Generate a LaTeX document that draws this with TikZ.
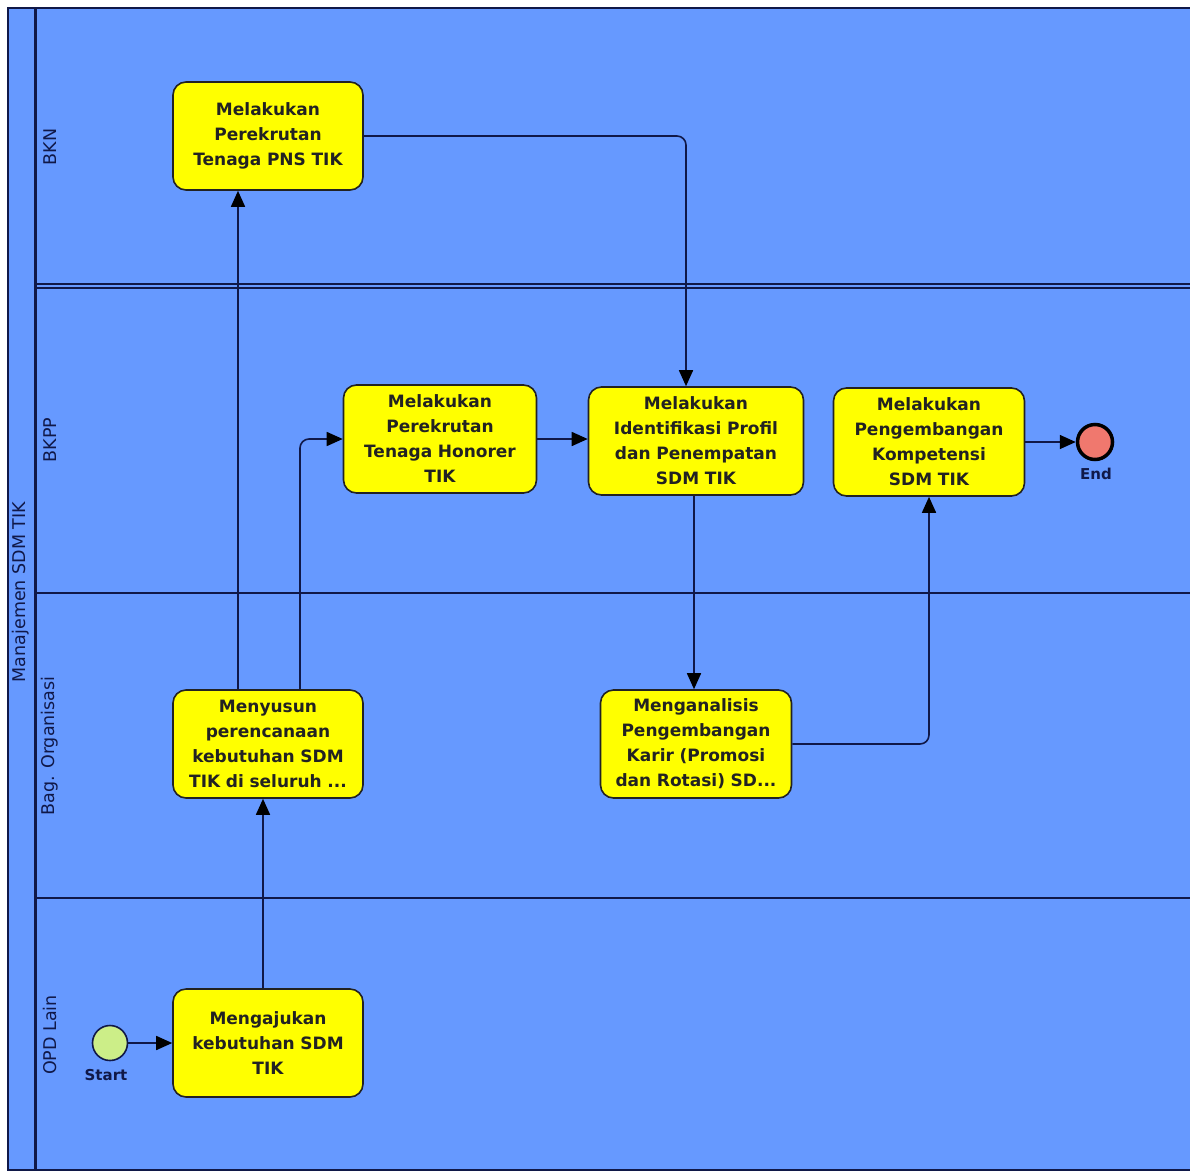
\documentclass[tikz,border=0pt]{standalone}
\usepackage{fontspec}
\setmainfont{DejaVu Sans}
\usetikzlibrary{arrows.meta}
\definecolor{poolblue}{RGB}{102,153,255}
\definecolor{navy}{RGB}{16,24,72}
\definecolor{boxyellow}{RGB}{255,255,0}
\definecolor{startgreen}{RGB}{204,238,136}
\definecolor{endred}{RGB}{240,120,110}
\definecolor{txt}{RGB}{34,34,34}
\tikzset{
  task/.style={rectangle, rounded corners=13pt, fill=boxyellow, draw=txt, line width=1.6pt,
    minimum width=190pt, minimum height=108pt, align=center, text width=188pt, inner sep=0pt,
    text=txt, font=\bfseries\fontsize{17}{25}\selectfont},
  flow/.style={draw=navy, line width=1.6pt, rounded corners=9pt,
    -{Triangle[length=16pt,width=14pt,fill=black,color=black]}},
  lanelabel/.style={rotate=90, text=navy, font=\fontsize{17.5}{19}\selectfont},
  lane/.style={draw=navy, line width=1.5pt},
  evlabel/.style={text=navy, font=\bfseries\fontsize{15}{17}\selectfont}
}
\begin{document}
\begin{tikzpicture}[x=1pt,y=-1pt]
\useasboundingbox (0,0) rectangle (1190,1172);
\fill[white] (0,0) rectangle (1190,1172);
% pool
\fill[poolblue] (8,8) rectangle (1192,1170);
\draw[navy, line width=1.5pt] (1192,8) -- (8,8) -- (8,1170) -- (1192,1170);
\draw[navy, line width=3pt] (35,8) -- (35,1170);
% lane borders
\draw[lane] (35,284) -- (1192,284);
\draw[lane] (35,288) -- (1192,288);
\draw[lane] (35,593) -- (1192,593);
\draw[lane] (35,898) -- (1192,898);
% labels
\node[lanelabel] (pool) at (21,592) {Manajemen SDM TIK};
\node[lanelabel] (lbkn) at (50,147) {BKN};
\node[lanelabel] (lbkpp) at (50,440) {BKPP};
\node[lanelabel] (lbag) at (50,746) {Bag. Organisasi};
\node[lanelabel] (lopd) at (50,1035) {OPD Lain};
% tasks
\node[task] (b1) at (268,136) {Melakukan\\Perekrutan\\Tenaga PNS TIK};
\node[task, minimum width=193pt] (b2) at (440,439) {Melakukan\\Perekrutan\\Tenaga Honorer\\TIK};
\node[task, minimum width=215pt, text width=212pt] (b3) at (696,441) {Melakukan\\Identifikasi Profil\\dan Penempatan\\SDM TIK};
\node[task, minimum width=191pt] (b4) at (929,442) {Melakukan\\Pengembangan\\Kompetensi\\SDM TIK};
\node[task] (b5) at (268,744) {Menyusun\\perencanaan\\kebutuhan SDM\\TIK di seluruh ...};
\node[task, minimum width=191pt] (b6) at (696,744) {Menganalisis\\Pengembangan\\Karir (Promosi\\dan Rotasi) SD...};
\node[task] (b7) at (268,1043) {Mengajukan\\kebutuhan SDM\\TIK};
% events
\node[circle, minimum size=35pt, inner sep=0pt, fill=startgreen, draw=navy, line width=1.6pt] (start) at (110,1043) {};
\node[evlabel] (startlbl) at (106,1075) {Start};
\node[circle, minimum size=35pt, inner sep=0pt, fill=endred, draw=black, line width=3.5pt] (end) at (1095,442) {};
\node[evlabel] (endlbl) at (1096,474) {End};
% flows
\draw[flow] (start) -- (b7.west);
\draw[flow] ([xshift=-5pt]b7.north) -- ([xshift=-5pt]b5.south);
\draw[flow] ([xshift=-30pt]b5.north) -- ([xshift=-30pt]b1.south);
\draw[flow] ([xshift=32pt]b5.north) |- (b2.west);
\draw[flow] (b1.east) -| ([xshift=-10pt]b3.north);
\draw[flow] (b2.east) -- (b2.east -| b3.west);
\draw[flow] ([xshift=-2pt]b3.south) -- ([xshift=-2pt]b6.north);
\draw[flow] (b6.east) -| (b4.south);
\draw[flow] (b4.east) -- (end);
\end{tikzpicture}
\end{document}
